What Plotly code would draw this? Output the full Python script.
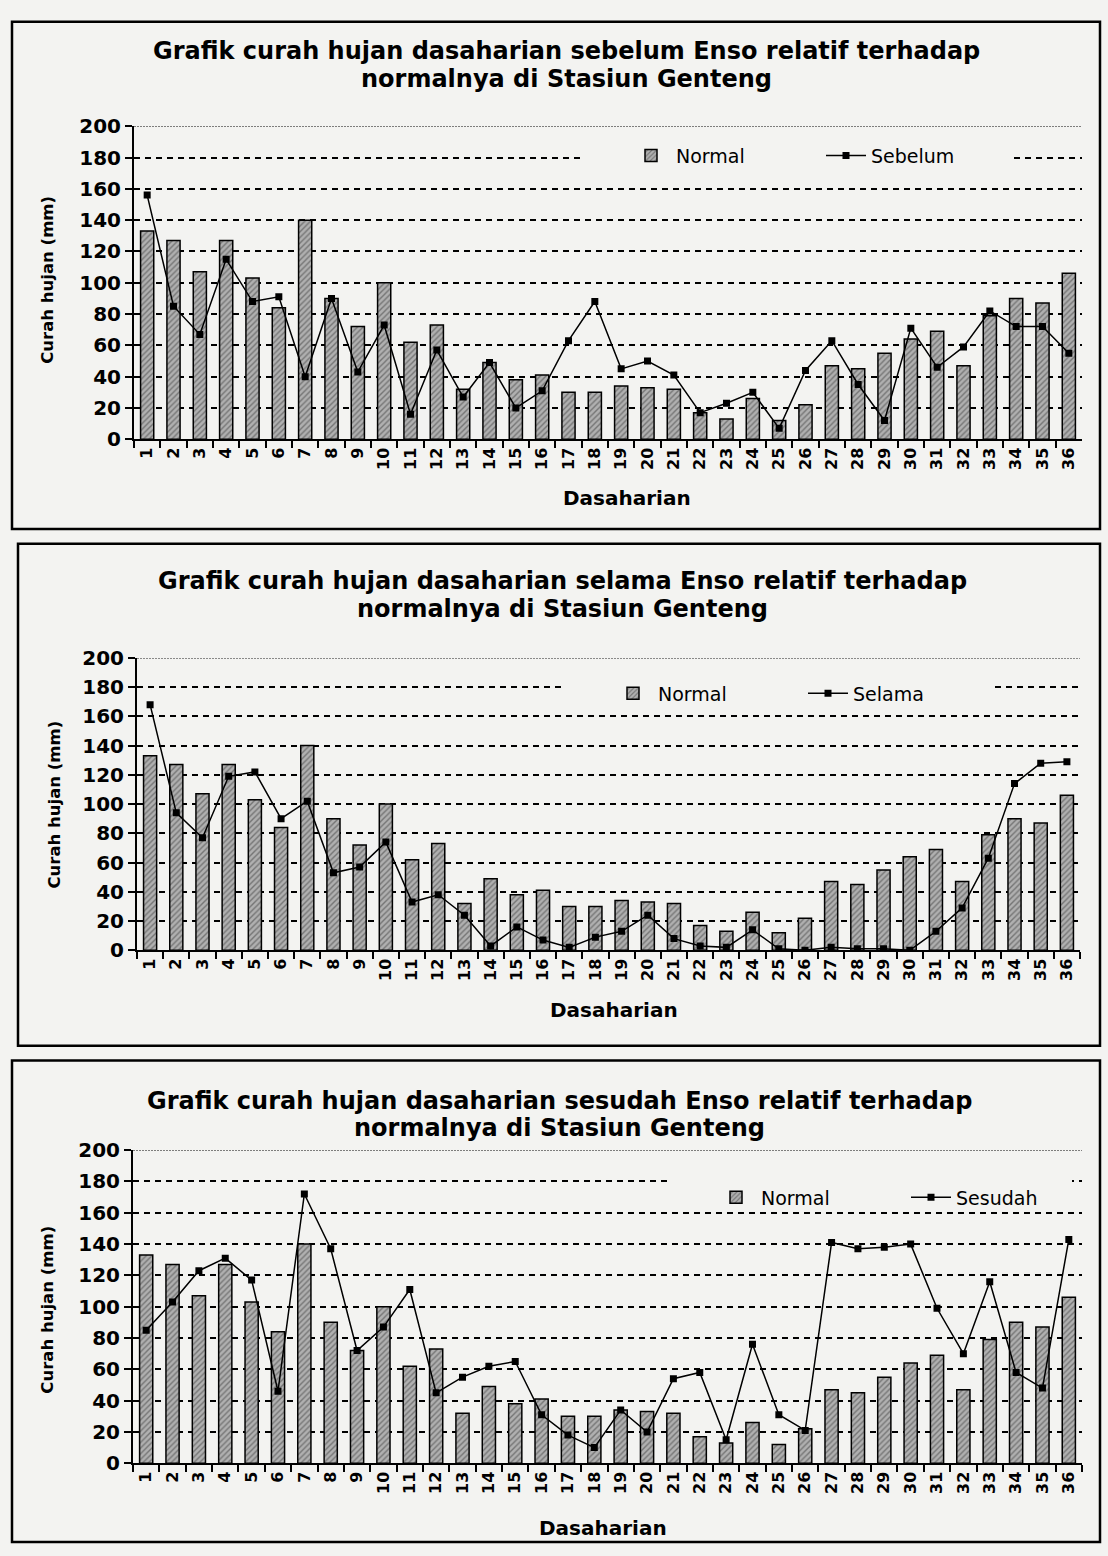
import plotly.graph_objects as go

# ---- data -------------------------------------------------------------
dasaharian = [str(i) for i in range(1, 37)]

normal = [133, 127, 107, 127, 103, 84, 140, 90, 72, 100, 62, 73,
          32, 49, 38, 41, 30, 30, 34, 33, 32, 17, 13, 26,
          12, 22, 47, 45, 55, 64, 69, 47, 79, 90, 87, 106]

sebelum = [156, 85, 67, 115, 88, 91, 40, 90, 43, 73, 16, 57,
           27, 49, 20, 31, 63, 88, 45, 50, 41, 17, 23, 30,
           7, 44, 63, 35, 12, 71, 46, 59, 82, 72, 72, 55]

selama = [168, 94, 77, 119, 122, 90, 102, 53, 57, 74, 33, 38,
          24, 3, 16, 7, 2, 9, 13, 24, 8, 3, 2, 14,
          1, 0, 2, 1, 1, 0, 13, 29, 63, 114, 128, 129]

sesudah = [85, 103, 123, 131, 117, 46, 172, 137, 72, 87, 111, 45,
           55, 62, 65, 31, 18, 10, 34, 20, 54, 58, 15, 76,
           31, 21, 141, 137, 138, 140, 99, 70, 116, 58, 48, 143]

y_ticks = [0, 20, 40, 60, 80, 100, 120, 140, 160, 180, 200]

title_line2 = "normalnya di Stasiun Genteng"

# ---- page geometry (pixels) -------------------------------------------
W, H = 1108, 1556
PAPER = "#f3f3f1"


def fx(p):
    return p / W


def fy(p):
    return 1 - p / H


panels = [
    dict(series=sebelum, label="Sebelum",
         title="Grafik curah hujan dasaharian sebelum Enso relatif terhadap",
         plot=(134, 1082, 116, 434), frame=(12, 1100, 10, 525),
         title_xy=(567, 40, 68), ytitle_xy=(48, 272), xtitle_xy=(627, 494),
         legend_xy=(626, 146), legend_gap=(580, 1014, 154)),
    dict(series=selama, label="Selama",
         title="Grafik curah hujan dasaharian selama Enso relatif terhadap",
         plot=(137, 1080, 656, 953), frame=(18, 1100, 540, 1050),
         title_xy=(562, 578, 606), ytitle_xy=(55, 805), xtitle_xy=(614, 1014),
         legend_xy=(608, 692), legend_gap=(563, 990, 693)),
    dict(series=sesudah, label="Sesudah",
         title="Grafik curah hujan dasaharian sesudah Enso relatif terhadap",
         plot=(133, 1082, 1156, 1474), frame=(12, 1100, 1065, 1554),
         title_xy=(559, 1106, 1133), ytitle_xy=(48, 1318), xtitle_xy=(603, 1540),
         legend_xy=(711, 1204), legend_gap=(667, 1072, 1196)),
]

FONT = "DejaVu Sans"

fig = go.Figure()
layout = dict(
    width=W, height=H,
    margin=dict(l=0, r=0, t=0, b=0),
    paper_bgcolor=PAPER, plot_bgcolor="rgba(0,0,0,0)",
    bargap=0.5,
    showlegend=True,
    font=dict(family=FONT, color="black"),
)
shapes, annotations = [], []

for i, p in enumerate(panels, start=1):
    sfx = "" if i == 1 else str(i)
    xa, ya = "x" + sfx, "y" + sfx
    leg = "legend" + sfx
    x0, x1, ytop, ybot = p["plot"]

    fig.add_trace(go.Bar(
        x=dasaharian, y=normal, name="Normal", xaxis=xa, yaxis=ya, legend=leg,
        marker=dict(color="#a5a5a5",
                    line=dict(color="black", width=1.5),
                    pattern=dict(shape="/", fgcolor="#3a3a3a", bgcolor="#b0b0b0",
                                 size=4, solidity=0.35)),
    ))
    fig.add_trace(go.Scatter(
        x=dasaharian, y=p["series"], name=p["label"], xaxis=xa, yaxis=ya, legend=leg,
        mode="lines+markers",
        line=dict(color="black", width=1.5),
        marker=dict(symbol="square", size=7, color="black"),
    ))

    layout["xaxis" + sfx] = dict(
        domain=[fx(x0), fx(x1)], anchor=ya, type="category",
        range=[-0.5, 35.5], autorange=False,
        tickangle=-90, ticks="outside", tickson="boundaries", ticklen=7,
        tickwidth=1.5, tickcolor="black",
        showline=True, linecolor="black", linewidth=2, showgrid=False,
        tickfont=dict(family=FONT, size=16, color="black", weight="bold"),
    )
    layout["yaxis" + sfx] = dict(
        domain=[fy(ybot), fy(ytop)], anchor=xa, range=[0, 200],
        tickvals=y_ticks, ticks="outside", ticklen=7, tickwidth=1.5,
        tickcolor="black",
        showline=True, linecolor="black", linewidth=2, zeroline=False,
        showgrid=True, gridcolor="black", gridwidth=1.6, griddash="6px,5px",
        tickfont=dict(family=FONT, size=20, color="black", weight="bold"),
    )
    lx, ly = p["legend_xy"]
    layout[leg] = dict(
        orientation="h", x=fx(lx), y=fy(ly), xanchor="left", yanchor="middle",
        bgcolor="rgba(0,0,0,0)", borderwidth=0, itemwidth=40, entrywidth=140,
        font=dict(family=FONT, size=19, color="black"),
        traceorder="normal",
    )

    # blank band behind the legend, interrupting the 180 gridline
    gx0, gx1, gy = p["legend_gap"]
    shapes.append(dict(type="rect", xref="paper", yref="paper",
                       x0=fx(gx0), x1=fx(gx1), y0=fy(gy + 13), y1=fy(gy - 13),
                       fillcolor=PAPER, line=dict(width=0), layer="above"))

    # dotted top border of the plotting area
    shapes.append(dict(type="line", xref=xa + " domain", yref=ya,
                       x0=0, x1=1, y0=200, y1=200,
                       line=dict(color="#222", width=1.3, dash="2px,1px")))

    fl, fr, ft, fb = p["frame"]
    shapes.append(dict(type="rect", xref="paper", yref="paper",
                       x0=fx(fl), x1=fx(fr), y0=fy(fb), y1=fy(ft),
                       line=dict(color="black", width=2.5), layer="below"))

    tx, ty1, ty2 = p["title_xy"]
    for txt, ty in ((p["title"], ty1), (title_line2, ty2)):
        annotations.append(dict(
            text=txt, x=fx(tx), y=fy(ty), xref="paper", yref="paper",
            xanchor="center", yanchor="middle", showarrow=False,
            font=dict(family=FONT, size=24, color="black", weight="bold")))
    yx, yy = p["ytitle_xy"]
    annotations.append(dict(
        text="Curah hujan (mm)", x=fx(yx), y=fy(yy), xref="paper", yref="paper",
        xanchor="center", yanchor="middle", showarrow=False, textangle=-90,
        font=dict(family=FONT, size=16.5, color="black", weight="bold")))
    dx, dy = p["xtitle_xy"]
    annotations.append(dict(
        text="Dasaharian", x=fx(dx), y=fy(dy), xref="paper", yref="paper",
        xanchor="center", yanchor="middle", showarrow=False,
        font=dict(family=FONT, size=20, color="black", weight="bold")))

layout["shapes"] = shapes
layout["annotations"] = annotations
fig.update_layout(**layout)

fig.write_html("out.html")
